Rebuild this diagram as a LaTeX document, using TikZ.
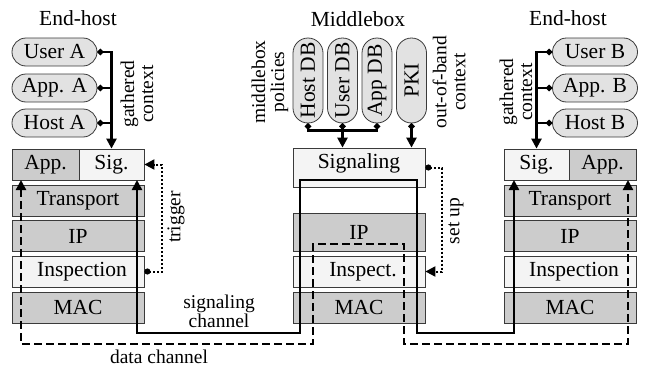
\documentclass[tikz,border=0pt]{standalone}
\usepackage{fontspec}
\setmainfont{Liberation Serif}
\usetikzlibrary{arrows.meta,calc}
\definecolor{dk}{HTML}{CCCCCC}
\definecolor{lt}{HTML}{F4F4F4}
\definecolor{pl}{HTML}{E2E2E2}
\definecolor{bd}{HTML}{3A3A3A}
\tikzset{
  layer/.style={draw=bd, line width=0.8pt, minimum width=132pt, minimum height=31pt, inner sep=0pt, font=\fontsize{21.5}{24}\selectfont},
  dark/.style={layer, fill=dk},
  light/.style={layer, fill=lt},
  pill/.style={draw=bd, line width=0.8pt, fill=pl, rounded corners=14pt, minimum width=85pt, minimum height=28pt, inner sep=0pt, font=\fontsize{21.5}{24}\selectfont},
  vpill/.style={pill, rotate=90, rounded corners=15pt, minimum height=30pt},
  lbl/.style={font=\fontsize{19.5}{19}\selectfont, align=center, inner sep=0pt},
  head/.style={font=\fontsize{21.5}{24}\selectfont, inner sep=0pt},
  conn/.style={line width=2.4pt, black},
  arr/.style={-{Triangle[length=10pt,width=10pt]}},
  dotarr/.style={{Circle[length=6pt]}-{Triangle[length=10pt,width=10pt]}},
  dotdot/.style={{Circle[length=6pt]}-{Circle[length=6pt]}},
  dotline/.style={{Circle[length=6pt]}-},
  dashline/.style={line width=2.2pt, dash pattern=on 8pt off 4pt},
  dotted2/.style={line width=2pt, dash pattern=on 2pt off 2pt},
}
\begin{document}
\begin{tikzpicture}[x=1pt,y=-1pt]
\useasboundingbox (0,0) rectangle (651,367);

% ---------- left end-host ----------
\node[head] (ehA) at (78,18) {End-host};
\node[pill] (userA) at (54.5,52) {User A};
\node[pill] (appA0) at (54.5,88) {App. A};
\node[pill] (hostA) at (54.5,123) {Host A};
\node[dark, minimum width=67pt] (appA) at (45.5,164.5) {App.};
\node[light, minimum width=65pt] (sigA) at (111.5,164.5) {Sig.};
\node[dark] (transA) at (78,200.5) {Transport};
\node[dark] (ipA) at (78,236) {IP};
\node[light] (inspA) at (78,271.5) {\hspace{8pt}Inspection};
\node[dark] (macA) at (78,307.5) {MAC};
\node[lbl, rotate=90] (gcA) at (137,94) {gathered\\context};
\node[lbl, rotate=90] (trig) at (176,217) {trigger};

% ---------- middlebox ----------
\node[head] (mbx) at (358,19) {Middlebox};
\node[vpill] (hostDB) at (308,80.5) {Host DB};
\node[vpill] (userDB) at (342.5,80.5) {User DB};
\node[vpill] (appDB) at (377,80.5) {App DB};
\node[vpill] (pki) at (411.5,80.5) {PKI};
\node[light, minimum height=39pt] (signaling) at (359,167.5) {};
\node[head] (signalingtxt) at (359,163) {Signaling};
\node[dark, minimum height=38pt] (ipM) at (359,232) {IP};
\node[light] (inspM) at (359,271.5) {\hspace{8pt}Inspect.};
\node[dark] (macM) at (359,307.5) {MAC};
\node[lbl, rotate=90] (mpol) at (270,82) {middlebox\\policies};
\node[lbl, rotate=90] (oob) at (449,82) {out-of-band\\context};
\node[lbl, rotate=90] (setup) at (456,221) {set up};

% ---------- right end-host ----------
\node[head] (ehB) at (568,18) {End-host};
\node[pill] (userB) at (595,52) {User B};
\node[pill] (appB0) at (595,88) {App. B};
\node[pill] (hostB) at (595,123) {Host B};
\node[light, minimum width=65pt] (sigB) at (536.5,164.5) {Sig.};
\node[dark, minimum width=67pt] (appB) at (602.5,164.5) {App.};
\node[dark] (transB) at (570,200.5) {Transport};
\node[dark] (ipB) at (570,236) {IP};
\node[light] (inspB) at (570,271.5) {\hspace{8pt}Inspection};
\node[dark] (macB) at (570,307.5) {MAC};
\node[lbl, rotate=90] (gcB) at (516,92) {gathered\\context};

% ---------- channel labels ----------
\node[lbl] (sigch) at (219,311) {signaling\\channel};
\node[lbl] (datach) at (159,357) {data channel};

% ---------- gathered context buses ----------
\draw[conn, dotarr] (userA.east) -| (sigA.north);
\draw[conn, dotline] (appA0.east) -- (appA0.east -| sigA.north);
\draw[conn, dotline] (hostA.east) -- (hostA.east -| sigA.north);
\draw[conn, dotarr] (userB.west) -| (sigB.north);
\draw[conn, dotline] (appB0.west) -- (appB0.west -| sigB.north);
\draw[conn, dotline] (hostB.west) -- (hostB.west -| sigB.north);

% ---------- middlebox policies ----------
\draw[conn, dotdot] (hostDB.west) -- ++(0,7) -| (appDB.west);
\draw[conn, dotarr] (userDB.west) -- (userDB.west |- signaling.north);
\draw[conn, dotarr] (pki.west) -- (pki.west |- signaling.north);

% ---------- trigger / set up ----------
\draw[dotted2, dotarr] (inspA.east) -- ++(18,0) |- (sigA.east);
\draw[dotted2, dotarr] (signaling.east) -- ++(17,0) |- (inspM.east);

% ---------- signaling channel ----------
\coordinate (sa) at (137,180);
\coordinate (s1) at (137,333);
\coordinate (s2) at (300,333);
\coordinate (s3) at (300,180);
\coordinate (s4) at (417,180);
\coordinate (s5) at (417,333);
\coordinate (s6) at (514,333);
\coordinate (sb) at (514,180);
\draw[conn, {Triangle[length=10pt,width=10pt]}-{Triangle[length=10pt,width=10pt]}]
  (sa) -- (s1) -- (s2) -- (s3) -- (s4) -- (s5) -- (s6) -- (sb);

% ---------- data channel ----------
\coordinate (da) at (21,180);
\coordinate (d1) at (21,344);
\coordinate (d2) at (313,344);
\coordinate (d3) at (313,244);
\coordinate (d4) at (404,244);
\coordinate (d5) at (404,344);
\coordinate (d6) at (628,344);
\coordinate (db) at (628,180);
\draw[dashline, {Triangle[length=10pt,width=10pt]}-{Triangle[length=10pt,width=10pt]}]
  (da) -- (d1) -- (d2) -- (d3) -- (d4) -- (d5) -- (d6) -- (db);
\end{tikzpicture}
\end{document}
